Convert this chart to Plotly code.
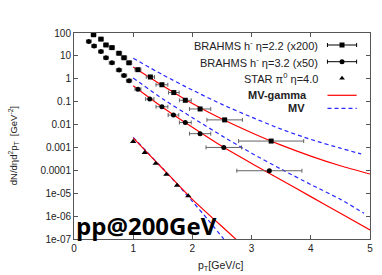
import plotly.graph_objects as go

# ---------------- data ----------------
# BRAHMS h- eta=2.2 (x200)
b22_x = [0.33, 0.455, 0.54, 0.64, 0.76, 0.845, 0.93, 1.08, 1.29, 1.485, 1.686, 1.88, 2.13, 2.545, 3.33]
b22_y = [84, 54, 30, 23, 13, 8.3, 5.0, 2.5, 1.2, 0.55, 0.25, 0.115, 0.048, 0.016, 0.0019]
b22_ex = [0.04, 0.04, 0.04, 0.045, 0.045, 0.045, 0.045, 0.05, 0.07, 0.1, 0.09, 0.1, 0.18, 0.3, 0.55]

# BRAHMS h- eta=3.2 (x50)
b32_x = [0.25, 0.34, 0.455, 0.54, 0.64, 0.76, 0.845, 0.93, 1.08, 1.28, 1.485, 1.68, 1.88, 2.13, 2.53, 3.30]
b32_y = [43, 27, 15.5, 8.3, 5.0, 2.4, 1.4, 0.83, 0.35, 0.13, 0.06, 0.026, 0.0123, 0.004, 0.001, 9.6e-5]
b32_ex = [0.04, 0.04, 0.04, 0.04, 0.045, 0.045, 0.045, 0.045, 0.05, 0.07, 0.1, 0.09, 0.1, 0.18, 0.3, 0.55]

# STAR pi0 eta=4.0
star_x = [1.0, 1.195, 1.38, 1.56, 1.74, 1.93]
star_y = [1.8e-3, 6.0e-4, 2.0e-4, 6.6e-5, 2.2e-5, 7.6e-6]

# MV-gamma curves
mvg22_x = [1.0, 1.5, 2.0, 2.5, 3.0, 3.5, 4.0, 4.5, 5.0]
mvg22_y = [3.3, 0.50, 0.083, 0.0174, 0.0044, 1.26e-3, 4.2e-4, 1.58e-4, 6.9e-5]
mvg32_x = [1.0, 1.5, 2.0, 2.5, 3.0, 3.5, 4.0, 4.5, 5.0]
mvg32_y = [0.50, 0.056, 7.6e-3, 1.12e-3, 2.0e-4, 3.8e-5, 7.1e-6, 1.32e-6, 2.5e-7]
mvg40_x = [1.0, 1.25, 1.5, 1.75, 2.0, 2.25, 2.5, 2.75]
mvg40_y = [2.6e-3, 5.5e-4, 1.17e-4, 2.5e-5, 5.4e-6, 1.35e-6, 3.5e-7, 9.0e-8]

# MV curves
mv22_x = [1.0, 1.5, 2.0, 2.5, 3.0, 3.5, 4.0, 4.5, 4.85]
mv22_y = [7.9, 1.48, 0.32, 0.076, 0.021, 6.3e-3, 2.24e-3, 9.3e-4, 5.2e-4]
mv32_x = [1.0, 1.5, 2.0, 2.5, 3.0, 3.5, 4.0, 4.5, 4.9]
mv32_y = [1.07, 0.132, 0.020, 3.2e-3, 5.6e-4, 1.12e-4, 2.4e-5, 5.4e-6, 1.32e-6]
mv40_x = [1.0, 1.25, 1.5, 1.75, 2.0, 2.25, 2.53]
mv40_y = [2.75e-3, 5.75e-4, 1.2e-4, 2.4e-5, 4.4e-6, 7.6e-7, 1.0e-7]

ytick_vals = [1e-7, 1e-6, 1e-5, 1e-4, 1e-3, 1e-2, 0.1, 1, 10, 100]
ytick_text = ["1e-07", "1e-06", "1e-05", "0.0001", "0.001", "0.01", "0.1", "1", "10", "100"]
xtick_vals = [0, 1, 2, 3, 4, 5]

RED = "rgb(255,0,0)"
BLUE = "rgb(40,40,255)"
BAR = "rgb(100,100,100)"

fig = go.Figure()

def curve(x, y, color, dash):
    fig.add_trace(go.Scatter(x=x, y=y, mode="lines", line=dict(color=color, width=1.2, dash=dash, shape="spline", smoothing=0.6),
                             showlegend=False, hoverinfo="skip"))

curve(mv22_x, mv22_y, BLUE, "4px,3px")
curve(mv32_x, mv32_y, BLUE, "4px,3px")
curve(mv40_x, mv40_y, BLUE, "4px,3px")
curve(mvg22_x, mvg22_y, RED, "solid")
curve(mvg32_x, mvg32_y, RED, "solid")
curve(mvg40_x, mvg40_y, RED, "solid")

fig.add_trace(go.Scatter(x=b22_x, y=b22_y, mode="markers",
                         marker=dict(symbol="square", size=5, color="black"),
                         error_x=dict(type="data", array=b22_ex, color=BAR, thickness=1, width=2),
                         showlegend=False))
fig.add_trace(go.Scatter(x=b32_x, y=b32_y, mode="markers",
                         marker=dict(symbol="circle", size=5, color="black"),
                         error_x=dict(type="data", array=b32_ex, color=BAR, thickness=1, width=2),
                         showlegend=False))
fig.add_trace(go.Scatter(x=star_x, y=star_y, mode="markers",
                         marker=dict(symbol="triangle-up", size=5.5, color="black"),
                         showlegend=False))

# ---------------- hand-made legend (text right, sample left) ----------------
L_W = 299.5
L_H = 206.0
def fx(px):
    return (px - 73.5) / L_W
def fy(py):
    return 1 - (py - 33) / L_H

rows = [45, 61.7, 78.3, 95.3, 108.3]
sx0, sx1, sxm = fx(330), fx(359.5), fx(344.7)
fig.add_trace(go.Scatter(x=[sxm], y=[fy(rows[0])], xaxis="x2", yaxis="y2", mode="markers",
                         marker=dict(symbol="square", size=5, color="black"),
                         error_x=dict(type="constant", value=(sx1 - sx0) / 2, color="black", thickness=1, width=2),
                         showlegend=False))
fig.add_trace(go.Scatter(x=[sxm], y=[fy(rows[1])], xaxis="x2", yaxis="y2", mode="markers",
                         marker=dict(symbol="circle", size=5, color="black"),
                         error_x=dict(type="constant", value=(sx1 - sx0) / 2, color="black", thickness=1, width=2),
                         showlegend=False))
fig.add_trace(go.Scatter(x=[sxm], y=[fy(rows[2])], xaxis="x2", yaxis="y2", mode="markers",
                         marker=dict(symbol="triangle-up", size=5, color="black"), showlegend=False))
fig.add_trace(go.Scatter(x=[sx0, sx1], y=[fy(rows[3])] * 2, xaxis="x2", yaxis="y2", mode="lines",
                         line=dict(color=RED, width=1.2), showlegend=False))
fig.add_trace(go.Scatter(x=[sx0, sx1], y=[fy(rows[4])] * 2, xaxis="x2", yaxis="y2", mode="lines",
                         line=dict(color=BLUE, width=1.2, dash="4px,3px"), showlegend=False))

legend_texts = ["BRAHMS h<sup>-</sup> η=2.2 (x200)", "BRAHMS h<sup>-</sup> η=3.2 (x50)",
                "STAR π<sup>0</sup> η=4.0", "<b>MV-gamma</b>", "<b>MV</b>"]
legend_right = [322, 322, 322, 311, 309]
ann = []
for t, r, xr in zip(legend_texts, rows, legend_right):
    ann.append(dict(text=t, x=fx(xr), y=fy(r), xref="paper", yref="paper", xanchor="right", yanchor="middle",
                    showarrow=False, font=dict(family="Liberation Sans, Arial", size=11, color="#222")))

ann.append(dict(text="pp@200GeV", x=fx(75), y=0, xref="paper", yref="paper", xanchor="left", yanchor="bottom",
                showarrow=False, font=dict(family="Open Sans", size=24, color="black", weight="bold"), borderpad=0, yshift=-4))
ann.append(dict(text="dN/dηd<sup>2</sup>p<sub>T</sub>  [GeV<sup>-2</sup>]", x=fx(12), y=fy(146), xref="paper", yref="paper",
                xanchor="center", yanchor="middle", textangle=-90, showarrow=False,
                font=dict(family="Liberation Sans, Arial", size=9.5, color="#222")))
ann.append(dict(text="p<sub>T</sub>[GeV/c]", x=fx(222), y=fy(266), xref="paper", yref="paper",
                xanchor="center", yanchor="middle", showarrow=False,
                font=dict(family="Liberation Sans, Arial", size=10.5, color="#222")))

axis_common = dict(showline=True, linecolor="#555", linewidth=1, mirror="ticks", ticks="inside", ticklen=4,
                   tickcolor="#555", showgrid=False, zeroline=False,
                   tickfont=dict(family="Liberation Sans, Arial", size=10, color="#222"))

fig.update_layout(
    width=382, height=275,
    margin=dict(l=73.5, r=9, t=33, b=36),
    paper_bgcolor="white", plot_bgcolor="white",
    showlegend=False,
    xaxis=dict(range=[0, 5], tickvals=xtick_vals, ticktext=[str(v) for v in xtick_vals], **axis_common),
    yaxis=dict(type="log", range=[-7, 2], tickvals=ytick_vals, ticktext=ytick_text, **axis_common),
    xaxis2=dict(overlaying="x", range=[0, 1], visible=False),
    yaxis2=dict(overlaying="y", range=[0, 1], visible=False),
    annotations=ann,
)

fig.write_html("out.html", config={"displayModeBar": False},
               post_script="document.body.style.margin='0';document.body.style.overflow='hidden';")
